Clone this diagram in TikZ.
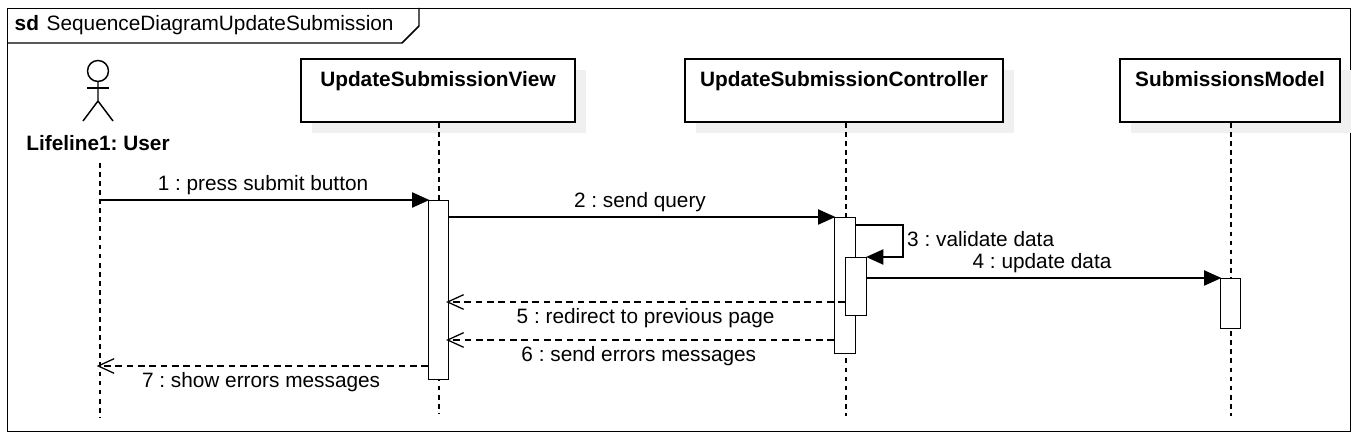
\documentclass[tikz,border=0pt]{standalone}
\usepackage{fontspec}
\setmainfont{Liberation Sans}
\usepackage{tikz}
\usetikzlibrary{arrows.meta, shadows, calc}

\newcommand{\umlfont}{\fontsize{15.6}{18}\selectfont}

\tikzset{
    lifeline/.style={draw=black, line width=1.1pt, dash pattern=on 3.6pt off 3.2pt},
    msglabel/.style={font=\umlfont, text height=11pt, text depth=3pt, inner xsep=0pt, inner ysep=0pt}
}

\begin{document}
\frenchspacing
\begin{tikzpicture}[x=0.75pt, y=-0.75pt, line width=1.1pt]
            \useasboundingbox (0,0) rectangle (1357,441);

            % frame and its tab
            \node[draw=black, line width=1.1pt, minimum width=1007.25pt, minimum height=317.25pt, inner sep=0pt, anchor=north west] (frame) at (7,8) {};
            \draw (frame.north west |- 0,43) -- (402,43) -- (419,26) -- (419,8);
            \node[anchor=base west, inner sep=0pt, font=\umlfont\bfseries] (sd) at (14,31) {sd};
            \node[anchor=base west, inner sep=0pt, font=\umlfont] (title) at (46,31) {SequenceDiagramUpdateSubmission};

            % the user
            \draw (98,71) circle (10.5);
            \draw (87,88) -- (109,88);
            \draw (98,81) -- (98,101) -- (83,121);
            \draw (98,101) -- (113,121);
            \node[anchor=base, inner sep=0pt, font=\umlfont\bfseries] (user) at (98,150.5) {Lifeline1: User};

            % lifeline heads
            \begin{scope}[every node/.style={draw=black, fill=white, line width=1.1pt, inner xsep=0pt, inner ysep=0pt,
                          font=\umlfont\bfseries, text height=28pt*0.75, text depth=35pt*0.75,
                          general shadow={fill=black!6, shadow xshift=8.25pt, shadow yshift=-8.25pt}}]
                \node[minimum width=205.5pt] (view) at (438,90.5) {UpdateSubmissionView};
                \node[minimum width=238.5pt] (controller) at (844,90.5) {UpdateSubmissionController};
                \node[minimum width=165pt] (model) at (1230,90.5) {SubmissionsModel};
            \end{scope}

            % lifelines
            \coordinate (userstart) at (100,163);
            \coordinate (userend) at (100,417);
            \coordinate (viewend) at (439,414);
            \coordinate (controllerend) at (846,416);
            \coordinate (modelend) at (1231,416);
            \draw[lifeline] (userstart) -- (userend);
            \draw[lifeline] (view.south -| viewend) -- (viewend);
            \draw[lifeline] (controller.south -| controllerend) -- (controllerend);
            \draw[lifeline] (model.south -| modelend) -- (modelend);

            % activation bars
            \begin{scope}[every node/.style={draw=black, fill=white, line width=1.1pt, inner sep=0pt, anchor=north west}]
                \node[minimum width=15pt, minimum height=134.25pt] (barview) at (428,200) {};
                \node[minimum width=15.75pt, minimum height=102pt] (barcontroller) at (834,217) {};
                \node[minimum width=15.75pt, minimum height=43.5pt] (barvalidate) at (845,257) {};
                \node[minimum width=15pt, minimum height=37.5pt] (barmodel) at (1220,278) {};
            \end{scope}

            % message heights
            \coordinate (msgone) at (100,200);
            \coordinate (msgtwo) at (448,217);
            \coordinate (msgthree) at (855,225);
            \coordinate (msgturn) at (903,257);
            \coordinate (msgfour) at (866,278);
            \coordinate (msgfive) at (845,302);
            \coordinate (msgsix) at (834,340);
            \coordinate (msgseven) at (428,366);

            % calls
            \begin{scope}[>={Triangle[length=13pt, width=11.5pt]}, shorten >=-1pt,
                          every edge/.style={draw=black, line width=0.95pt}]
                 \path[->] (msgone) edge node[msglabel, above=3.6pt, xshift=-0.75pt] (labelone) {1 : press submit button} (barview.north west);
                 \path[->] (msgtwo) edge node[msglabel, above=3.6pt, xshift=-0.75pt] (labeltwo) {2 : send query} (barcontroller.north west);
                 \draw[->, line width=0.95pt] (msgthree) -| (msgturn) -- (barvalidate.north east);
                 \path[->] (msgfour) edge node[msglabel, above=3.6pt, xshift=-0.75pt] (labelfour) {4 : update data} (barmodel.north west);
            \end{scope}
            \node[msglabel, anchor=west] (labelthree) at (906.5,241) {3 : validate data};

            % replies
            \begin{scope}[>={Straight Barb[length=12pt, width=11pt]}, shorten >=-2.5pt,
                          every edge/.style={draw=black, line width=0.95pt, dash pattern=on 5pt off 3.5pt}]
                 \path[->] (msgfive) edge node[msglabel, below=4.3pt, xshift=-1.2pt] (labelfive) {5 : redirect to previous page} (msgfive -| barview.east);
                 \path[->] (msgsix) edge node[msglabel, below=4.3pt, xshift=-2.2pt] (labelsix) {6 : send errors messages} (msgsix -| barview.east);
                 \path[->] (msgseven) edge node[msglabel, below=4.3pt, xshift=-2.2pt] (labelseven) {7 : show errors messages} (msgseven -| userstart);
            \end{scope}
\end{tikzpicture}
\end{document}
